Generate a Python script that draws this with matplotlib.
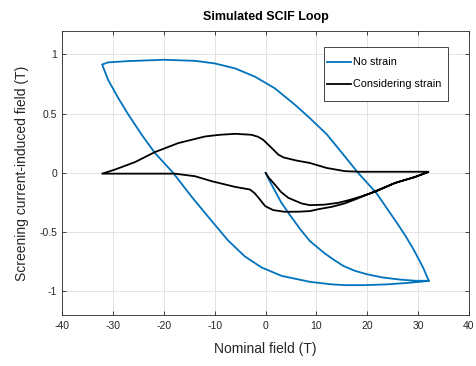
import matplotlib
matplotlib.use("Agg")
import matplotlib.pyplot as plt
from matplotlib.patches import Rectangle

plt.rcParams['font.family'] = ['Liberation Sans', 'DejaVu Sans']

# ---- No strain (blue) ----
blue_virgin_x = [0, 0.8, 1.8, 3.0, 4.45, 6.8, 8.7, 11.5, 13.3, 15.3, 17.5, 19.9, 23.0, 26.4, 29.5, 32.1]
blue_virgin_y = [0, -0.07, -0.149, -0.245, -0.336, -0.475, -0.575, -0.675, -0.73, -0.785, -0.825, -0.855, -0.882, -0.90, -0.91, -0.91]

blue_down_x = [32.1, 31.0, 29.1, 27.5, 25.8, 23.8, 21.8, 18.2, 15.0, 12.0, 8.7, 5.8, 1.8, -2.1, -6.0, -10.0, -13.9, -20.0, -27.0, -31.0, -32.2]
blue_down_y = [-0.91, -0.80, -0.645, -0.53, -0.42, -0.295, -0.17, 0.0, 0.17, 0.327, 0.462, 0.574, 0.714, 0.812, 0.882, 0.924, 0.946, 0.955, 0.944, 0.933, 0.915]

blue_up_x = [-32.2, -31.0, -29.0, -27.0, -24.4, -21.8, -18.2, -14.6, -10.6, -7.4, -4.1, -0.8, 3.15, 8.7, 12.9, 15.6, 19.5, 24.0, 28.0, 31.3, 32.1]
blue_up_y = [0.915, 0.784, 0.63, 0.49, 0.322, 0.168, 0.0, -0.2, -0.407, -0.57, -0.705, -0.798, -0.869, -0.919, -0.94, -0.947, -0.947, -0.94, -0.928, -0.915, -0.91]

# ---- Considering strain (black) ----
black_virgin_x = [0, 0.6, 1.8, 3.0, 4.45, 7.1, 8.7, 11.5, 14.3, 16.5, 18.9, 21.5, 25.5, 29.4, 32.0]
black_virgin_y = [0, -0.04, -0.098, -0.16, -0.21, -0.258, -0.272, -0.268, -0.252, -0.228, -0.197, -0.16, -0.084, -0.034, 0.008]

black_down_x = [32.0, 25.0, 18.4, 15.6, 12.0, 8.7, 6.0, 3.5, 2.5, 1.2, -0.5, -1.5, -2.8, -6.0, -9.0, -11.9, -17.2, -21.8, -25.7, -29.7, -32.2]
black_down_y = [0.01, 0.01, 0.01, 0.015, 0.042, 0.084, 0.105, 0.131, 0.154, 0.21, 0.28, 0.305, 0.322, 0.330, 0.322, 0.308, 0.252, 0.176, 0.092, 0.028, -0.006]

black_up_x = [-32.2, -25.0, -17.9, -13.9, -10.6, -6.0, -3.1, -2.2, -1.4, -0.1, 1.5, 3.8, 6.5, 8.7, 10.5, 13.0, 15.5, 17.6, 21.5, 25.5, 29.4, 32.0]
black_up_y = [-0.006, -0.006, -0.006, -0.028, -0.07, -0.118, -0.14, -0.17, -0.21, -0.28, -0.314, -0.328, -0.327, -0.322, -0.305, -0.286, -0.258, -0.224, -0.155, -0.084, -0.034, 0.008]

x_ticks = [-40, -30, -20, -10, 0, 10, 20, 30, 40]
y_ticks = [-1, -0.5, 0, 0.5, 1]
y_tick_labels = ['-1', '-0.5', '0', '0.5', '1']

blue_x = blue_virgin_x + blue_down_x + blue_up_x
blue_y = blue_virgin_y + blue_down_y + blue_up_y
black_x = black_virgin_x + black_down_x + black_up_x
black_y = black_virgin_y + black_down_y + black_up_y

fig = plt.figure(figsize=(4.77, 3.66), dpi=100)
ax = fig.add_axes([0.131, 0.139, 0.852, 0.777])

ax.plot(blue_x, blue_y, color='#0072BD', lw=1.3, label='No strain')
ax.plot(black_x, black_y, color='black', lw=1.3, label='Considering strain')

ax.set_xlim(-40, 40)
ax.set_ylim(-1.2, 1.2)
ax.set_xticks(x_ticks)
ax.set_xticklabels([str(t) for t in x_ticks])
ax.set_yticks(y_ticks)
ax.set_yticklabels(y_tick_labels)
ax.grid(True, color='#e3e3e3', lw=0.7)
ax.set_axisbelow(True)
ax.tick_params(direction='in', length=3, width=0.6, labelsize=7.5, colors='#262626',
               top=True, right=True, pad=4)
for s in ax.spines.values():
    s.set_color('#262626')
    s.set_linewidth(0.6)

ax.set_xlabel('Nominal field (T)', fontsize=10, color='#262626', labelpad=8)
ax.set_ylabel('Screening current-induced field (T)', fontsize=10, color='#262626', labelpad=7)
ax.set_title('Simulated SCIF Loop', fontsize=9, fontweight='bold', pad=8)

# legend frame
ax.add_patch(Rectangle((0.6435, 0.7527), 0.9486 - 0.6435, 0.9427 - 0.7527,
                       transform=ax.transAxes, facecolor='white', edgecolor='#262626',
                       lw=0.6, zorder=4.9))
leg = ax.legend(loc='upper left', bbox_to_anchor=(0.651, 0.906), fontsize=7.8,
                frameon=False, handlelength=2.2, handletextpad=0.15, labelspacing=1.1,
                borderpad=0, borderaxespad=0)
leg.set_zorder(5)

fig.savefig('out.png', dpi=100)
